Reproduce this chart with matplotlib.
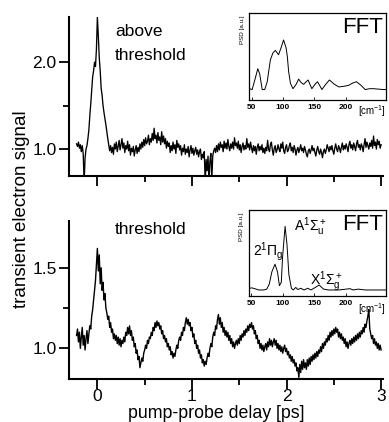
import numpy as np
import matplotlib
matplotlib.use("Agg")
import matplotlib.pyplot as plt
from matplotlib.ticker import FixedLocator, NullFormatter, FormatStrFormatter

plt.rcParams['font.family'] = ['Liberation Sans', 'DejaVu Sans']
plt.rcParams['mathtext.fontset'] = 'custom'
plt.rcParams['mathtext.rm'] = 'Liberation Sans'
plt.rcParams['mathtext.it'] = 'Liberation Sans'
plt.rcParams['mathtext.bf'] = 'Liberation Sans:bold'

# ---------------- data ----------------
t_start = -0.22
t_step = 0.01
above_signal = [
    1.06, 1.03, 1.08, 1.01, 1.05, 0.97, 1.04, 0.95, 0.62, 0.90,
    1.00, 1.04, 1.12, 1.22, 1.38, 1.52, 1.68, 1.83, 1.90, 2.00,
    1.95, 2.15, 2.52, 2.30, 2.05, 1.90, 1.70, 1.62, 1.50, 1.42,
    1.35, 1.28, 1.20, 1.12, 1.05, 0.98, 1.04, 0.96, 1.02, 0.94,
    1.06, 1.00, 1.08, 0.97, 1.03, 1.10, 0.99, 1.05, 1.12, 1.01,
    1.07, 0.96, 1.04, 1.00, 1.09, 0.98, 1.05, 0.93, 1.01, 0.97,
    1.03, 0.92, 0.99, 1.04, 0.95, 1.02, 0.97, 1.06, 1.00, 1.08,
    1.02, 1.11, 1.04, 1.13, 1.06, 1.09, 1.16, 1.05, 1.12, 1.08,
    1.18, 1.10, 1.24, 1.12, 1.16, 1.07, 1.19, 1.10, 1.14, 1.05,
    1.20, 1.08, 1.15, 1.06, 1.12, 1.01, 1.09, 1.03, 1.07, 0.96,
    1.04, 0.98, 1.08, 1.00, 1.05, 0.95, 1.10, 1.02, 1.06, 0.99,
    1.04, 0.93, 1.01, 0.97, 1.05, 0.94, 1.00, 0.96, 1.03, 0.91,
    0.99, 1.04, 0.95, 1.01, 0.93, 0.98, 1.02, 0.94, 0.99, 0.91,
    0.97, 1.00, 0.88, 0.94, 0.90, 0.97, 0.62, 0.88, 0.75, 0.92,
    0.62, 0.86, 0.95, 0.65, 0.92, 0.98, 1.01, 0.96, 1.04, 0.97,
    1.06, 0.99, 1.08, 1.02, 1.05, 0.97, 1.09, 1.01, 1.07, 1.00,
    1.11, 1.03, 0.98, 1.06, 1.01, 1.08, 1.00, 1.13, 1.04, 1.07,
    1.01, 1.09, 0.99, 1.05, 0.96, 1.03, 1.07, 0.99, 1.04, 1.00,
    1.12, 1.02, 1.06, 0.99, 1.08, 1.01, 0.96, 1.04, 0.98, 1.03,
    0.94, 1.02, 1.06, 0.98, 1.03, 0.99, 1.05, 0.96, 1.01, 0.95,
    1.02, 0.98, 1.10, 1.00, 0.97, 1.05, 1.08, 0.99, 0.93, 1.01,
    1.04, 0.96, 0.99, 1.05, 1.00, 0.97, 1.06, 1.01, 1.08, 0.98,
    0.95, 1.02, 1.05, 0.97, 0.99, 1.04, 1.07, 0.98, 1.02, 0.96,
    1.04, 1.00, 0.93, 0.99, 1.02, 0.96, 1.00, 1.05, 0.98, 1.01,
    0.96, 1.03, 0.99, 0.94, 0.91, 0.98, 1.00, 0.95, 0.99, 1.04,
    0.98, 1.01, 0.96, 0.92, 0.99, 1.03, 0.97, 0.94, 1.00, 0.96,
    0.90, 0.97, 1.00, 0.95, 0.99, 1.05, 1.01, 0.97, 1.03, 0.99,
    1.04, 0.98, 0.94, 1.01, 1.06, 1.00, 0.97, 1.04, 1.01, 0.96,
    1.02, 1.07, 0.99, 1.04, 1.00, 1.06, 1.02, 0.97, 1.05, 1.09,
    1.01, 1.05, 0.99, 1.07, 1.03, 0.98, 1.06, 1.10, 1.02, 1.05,
    0.99, 1.06, 1.03, 0.97, 1.05, 1.12, 1.02, 1.08, 1.04, 1.00,
    1.07, 1.03, 1.10, 1.01, 1.15, 1.04, 1.08, 1.00, 1.11, 1.05,
    1.09, 1.01, 1.05,
]
threshold_signal = [
    1.08, 1.12, 1.04, 1.10, 1.00, 1.07, 1.13, 1.02, 1.08, 0.99,
    1.06, 1.11, 1.03, 1.09, 1.14, 1.12, 1.20, 1.24, 1.30, 1.36,
    1.42, 1.52, 1.62, 1.48, 1.58, 1.40, 1.50, 1.36, 1.41, 1.30,
    1.34, 1.25, 1.22, 1.18, 1.20, 1.13, 1.16, 1.10, 1.12, 1.06,
    1.09, 1.05, 1.08, 1.03, 1.07, 1.02, 1.06, 1.01, 1.05, 1.03,
    1.07, 1.04, 1.10, 1.08, 1.13, 1.09, 1.14, 1.08, 1.11, 1.05,
    1.07, 1.01, 1.03, 0.97, 0.99, 0.93, 0.95, 0.88, 0.91, 0.94,
    0.92, 0.97, 0.99, 1.02, 1.00, 1.05, 1.03, 1.07, 1.06, 1.10,
    1.08, 1.13, 1.11, 1.16, 1.13, 1.17, 1.14, 1.16, 1.12, 1.14,
    1.09, 1.11, 1.06, 1.08, 1.04, 1.06, 1.01, 1.03, 0.99, 1.01,
    0.96, 0.98, 0.94, 0.97, 0.95, 0.99, 1.02, 1.00, 1.05, 1.07,
    1.05, 1.10, 1.08, 1.13, 1.11, 1.16, 1.19, 1.15, 1.18, 1.14,
    1.16, 1.11, 1.13, 1.07, 1.09, 1.03, 1.05, 1.00, 1.02, 0.97,
    0.99, 0.94, 0.96, 0.91, 0.93, 0.89, 0.92, 0.90, 0.94, 0.97,
    0.95, 1.00, 1.03, 1.01, 1.07, 1.10, 1.08, 1.14, 1.12, 1.18,
    1.21, 1.15, 1.19, 1.13, 1.16, 1.10, 1.13, 1.08, 1.11, 1.07,
    1.10, 1.05, 1.08, 1.03, 1.06, 1.01, 1.04, 1.00, 1.03, 1.05,
    1.02, 1.06, 1.03, 1.08, 1.05, 1.09, 1.07, 1.11, 1.08, 1.12,
    1.10, 1.14, 1.11, 1.15, 1.13, 1.16, 1.12, 1.14, 1.09, 1.11,
    1.06, 1.08, 1.03, 1.05, 1.00, 1.03, 0.99, 1.02, 0.98, 1.01,
    1.03, 0.99, 1.04, 1.01, 1.06, 1.02, 1.05, 1.01, 1.04, 1.06,
    1.02, 1.05, 1.00, 1.03, 0.99, 1.02, 0.98, 1.01, 0.97, 1.00,
    1.02, 0.98, 1.00, 0.96, 0.98, 0.94, 0.96, 0.92, 0.95, 0.91,
    0.93, 0.89, 0.91, 0.86, 0.88, 0.82, 0.90, 0.85, 0.92, 0.87,
    0.93, 0.88, 0.91, 0.87, 0.93, 0.89, 0.94, 0.90, 0.95, 0.92,
    0.96, 0.93, 0.97, 0.94, 0.98, 0.95, 0.99, 0.97, 1.01, 0.98,
    1.03, 1.00, 1.04, 1.02, 1.06, 1.04, 1.08, 1.05, 1.10, 1.07,
    1.11, 1.08, 1.12, 1.09, 1.13, 1.10, 1.12, 1.07, 1.10, 1.06,
    1.09, 1.05, 1.07, 1.03, 1.06, 1.01, 1.04, 1.00, 1.03, 1.05,
    1.02, 1.06, 1.03, 1.07, 1.04, 1.08, 1.05, 1.09, 1.06, 1.10,
    1.07, 1.11, 1.09, 1.13, 1.10, 1.15, 1.13, 1.17, 1.20, 1.24,
    1.12, 1.09, 1.06, 1.08, 1.03, 1.06, 1.02, 1.04, 1.00, 1.03,
    0.99, 1.02, 0.99,
]

fft_above_wn = [47, 51, 56, 60, 63, 67, 71, 75, 80, 84, 88, 93, 97, 101, 105, 107, 109, 112, 116,
                121, 125, 129, 133, 137, 140, 143, 146, 151, 155, 159, 162, 168, 174, 182, 189,
                194, 199, 205, 211, 217, 224, 231, 238, 244, 252, 260, 265]
fft_above_psd = [0.13, 0.12, 0.25, 0.36, 0.30, 0.12, 0.12, 0.21, 0.46, 0.54, 0.57, 0.52, 0.60,
                 0.69, 0.60, 0.50, 0.33, 0.19, 0.13, 0.18, 0.24, 0.20, 0.18, 0.21, 0.23, 0.18,
                 0.13, 0.18, 0.21, 0.16, 0.12, 0.18, 0.23, 0.18, 0.15, 0.155, 0.16, 0.17, 0.195,
                 0.21, 0.17, 0.12, 0.13, 0.13, 0.125, 0.12, 0.12]

fft_thr_wn = [46, 51, 56, 62, 70, 75, 79, 83, 88, 92, 95, 98, 100, 104, 107, 110, 114, 117, 121,
              124, 129, 134, 140, 145, 152, 158, 165, 173, 189, 207, 212, 220, 231, 265]
fft_thr_psd = [0.085, 0.095, 0.085, 0.07, 0.07, 0.08, 0.14, 0.28, 0.37, 0.28, 0.12, 0.16, 0.45,
               0.81, 0.60, 0.25, 0.09, 0.07, 0.10, 0.075, 0.09, 0.07, 0.09, 0.07, 0.10, 0.128,
               0.08, 0.07, 0.07, 0.085, 0.07, 0.08, 0.07, 0.07]

x_ticks = [0, 1, 2, 3]
x_minor = [0.5, 1.5, 2.5]
fft_ticks = [50, 100, 150, 200]

# ---------------- figure ----------------
W, H = 389, 422
fig = plt.figure(figsize=(W / 100, H / 100), dpi=100)


def frac(left, top, right, bottom):
    return [left / W, (H - bottom) / H, (right - left) / W, (bottom - top) / H]


def style_main(ax):
    for s in ['top', 'right']:
        ax.spines[s].set_visible(False)
    for s in ['left', 'bottom']:
        ax.spines[s].set_linewidth(1.5)
    ax.tick_params(which='major', direction='out', length=7, width=1.3, labelsize=12.5, pad=2)
    ax.tick_params(which='minor', direction='out', length=4, width=1.3)
    ax.set_xlim(-0.3, 3.02)
    ax.xaxis.set_major_locator(FixedLocator(x_ticks))
    ax.xaxis.set_minor_locator(FixedLocator(x_minor))


t_above = t_start + t_step * np.arange(len(above_signal))
t_thr = t_start + t_step * np.arange(len(threshold_signal))

ax1 = fig.add_axes(frac(69, 17, 383, 176))
ax1.plot(t_above, above_signal, color='black', lw=0.95)
style_main(ax1)
ax1.set_ylim(0.69, 2.52)
ax1.yaxis.set_major_locator(FixedLocator([1.0, 2.0]))
ax1.yaxis.set_minor_locator(FixedLocator([1.5]))
ax1.yaxis.set_major_formatter(FormatStrFormatter('%.1f'))
ax1.xaxis.set_major_formatter(NullFormatter())

ax2 = fig.add_axes(frac(69, 221, 383, 379))
ax2.plot(t_thr, threshold_signal, color='black', lw=1.0)
style_main(ax2)
ax2.set_ylim(0.81, 1.79)
ax2.yaxis.set_major_locator(FixedLocator([1.0, 1.5]))
ax2.yaxis.set_minor_locator(FixedLocator([1.25]))
ax2.yaxis.set_major_formatter(FormatStrFormatter('%.1f'))
ax2.tick_params(axis='x', which='major', pad=0.5)

fig.text(115 / W, 1 - 31 / H, 'above', fontsize=12.5, ha='left', va='center')
fig.text(115 / W, 1 - 55 / H, 'threshold', fontsize=12.5, ha='left', va='center')
fig.text(115 / W, 1 - 229 / H, 'threshold', fontsize=12.5, ha='left', va='center')

fig.text(22 / W, 1 - 209 / H, 'transient electron signal', fontsize=13.5, rotation=90,
         ha='center', va='center')
fig.text(216 / W, 1 - 413.5 / H, 'pump-probe delay [ps]', fontsize=12.8, ha='center', va='center')


def style_inset(ax):
    for s in ax.spines.values():
        s.set_linewidth(0.9)
    ax.set_xlim(46, 264)
    ax.set_ylim(0, 1)
    ax.set_yticks([])
    ax.xaxis.set_major_locator(FixedLocator(fft_ticks))
    ax.tick_params(axis='x', direction='in', length=2, width=0.6, labelsize=6, pad=3)
    for lab in ax.get_xticklabels():
        lab.set_fontweight('bold')


ins1 = fig.add_axes(frac(249, 13, 386, 100))
ins1.plot(fft_above_wn, fft_above_psd, color='black', lw=0.7)
style_inset(ins1)
ins1.text(1.0, -0.13, '[cm$^{-1}$]', transform=ins1.transAxes, fontsize=7, ha='right', va='center')
ins1.text(0.98, 0.83, 'FFT', transform=ins1.transAxes, fontsize=16, ha='right', va='center')
ins1.text(-0.03, 0.97, 'PSD [a.u.]', transform=ins1.transAxes, fontsize=4.5, rotation=90,
          ha='right', va='top')

ins2 = fig.add_axes(frac(248.5, 210, 386, 296))
ins2.plot(fft_thr_wn, fft_thr_psd, color='black', lw=0.7)
style_inset(ins2)
ins2.text(1.0, -0.15, '[cm$^{-1}$]', transform=ins2.transAxes, fontsize=7, ha='right', va='center')
ins2.text(0.98, 0.83, 'FFT', transform=ins2.transAxes, fontsize=16, ha='right', va='center')
ins2.text(-0.03, 0.97, 'PSD [a.u.]', transform=ins2.transAxes, fontsize=4.5, rotation=90,
          ha='right', va='top')
ins2.text(0.03, 0.52, r'$\mathrm{2^1\Pi_g}$', transform=ins2.transAxes, fontsize=10, ha='left', va='center')
ins2.text(0.33, 0.80, r'$\mathrm{A^1\Sigma_u^+}$', transform=ins2.transAxes, fontsize=10, ha='left', va='center')
ins2.text(0.45, 0.17, r'$\mathrm{X^1\Sigma_g^+}$', transform=ins2.transAxes, fontsize=10, ha='left', va='center')

fig.savefig('out.png', dpi=100)
